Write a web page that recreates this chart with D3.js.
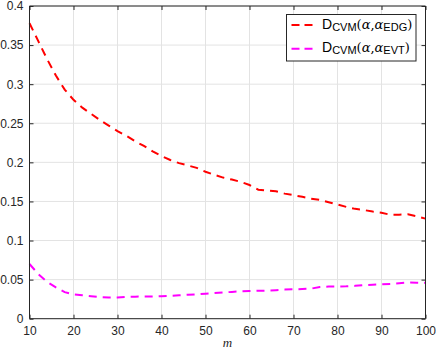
<!DOCTYPE html>
<html><head><meta charset="utf-8">
<script src="https://cdn.jsdelivr.net/npm/d3@7"></script>
<style>
html,body{margin:0;padding:0;background:#fff;}
svg{display:block;font-family:"Liberation Sans",Arial,Helvetica,sans-serif;}
</style></head>
<body><svg id="c" width="436" height="352"></svg>
<script>
const mValues = [10,12,14,16,18,20,22,24,26,28,30,32,34,36,38,40,42,44,46,48,50,52,54,56,58,60,62,64,66,68,70,72,74,76,78,80,82,84,86,88,90,92,94,96,98,100];
const edgValues = [0.378,0.355,0.332,0.311,0.293,0.280,0.270,0.262,0.254,0.247,0.240,0.234,0.227,0.221,0.214,0.208,0.203,0.199,0.196,0.193,0.188,0.184,0.1805,0.178,0.175,0.171,0.165,0.164,0.163,0.160,0.158,0.156,0.1535,0.152,0.149,0.146,0.143,0.1405,0.139,0.137,0.1355,0.133,0.133,0.1335,0.131,0.128];
const evtValues = [0.070,0.057,0.047,0.040,0.034,0.031,0.030,0.0288,0.0275,0.027,0.0272,0.028,0.0282,0.0283,0.0284,0.0288,0.0292,0.030,0.0306,0.031,0.032,0.0328,0.0335,0.0343,0.035,0.0354,0.0357,0.036,0.0365,0.0372,0.0376,0.038,0.0385,0.0405,0.0412,0.0413,0.0414,0.042,0.0428,0.0435,0.044,0.0445,0.0455,0.0462,0.046,0.0458];
const xTicks = [10,20,30,40,50,60,70,80,90,100];
const yTicks = [0,0.05,0.1,0.15,0.2,0.25,0.3,0.35,0.4];
const yTickLabels = ["0","0.05","0.1","0.15","0.2","0.25","0.3","0.35","0.4"];
const seriesNames = ["EDG","EVT"];
const seriesColors = ["#ff0000","#ff00ff"];

const L=29.5, R=425.5, T=6, B=318.7;
const svg=d3.select("#c");
const x=d3.scaleLinear().domain([10,100]).range([L,R]);
const y=d3.scaleLinear().domain([0,0.4]).range([B,T]);
const axisCol="#262626";

// grid
const g=svg.append("g");
g.selectAll(".gx").data(xTicks).enter().append("line")
 .attr("x1",d=>x(d)).attr("x2",d=>x(d)).attr("y1",T).attr("y2",B)
 .attr("stroke","#e3e3e3").attr("stroke-width",1);
g.selectAll(".gy").data(yTicks).enter().append("line")
 .attr("x1",L).attr("x2",R).attr("y1",d=>y(d)).attr("y2",d=>y(d))
 .attr("stroke","#e3e3e3").attr("stroke-width",1);

// lines
const line=d3.line().x((d,i)=>x(mValues[i])).y(d=>y(d));
[edgValues,evtValues].forEach((vals,k)=>{
  svg.append("path").datum(vals).attr("d",line).attr("fill","none")
   .attr("stroke",seriesColors[k]).attr("stroke-width",2).attr("stroke-dasharray","8,6");
});

// axes
const ax=svg.append("g").attr("transform",`translate(0,${B})`)
 .call(d3.axisBottom(x).tickValues(xTicks).tickSize(-4).tickPadding(8).tickFormat(d3.format("d")));
const ay=svg.append("g").attr("transform",`translate(${L},0)`)
 .call(d3.axisLeft(y).tickValues(yTicks).tickSize(-4).tickPadding(6).tickFormat((d,i)=>yTickLabels[i]));
const ar=svg.append("g").attr("transform",`translate(${R},0)`)
 .call(d3.axisRight(y).tickValues(yTicks).tickSize(-4).tickFormat(""));
const at=svg.append("g").attr("transform",`translate(0,${T})`)
 .call(d3.axisTop(x).tickValues(xTicks).tickSize(-4).tickFormat(""));
[ax,ay,ar,at].forEach(a=>{
  a.select(".domain").attr("stroke",axisCol).attr("stroke-width",1);
  a.selectAll(".tick line").attr("stroke",axisCol);
  a.selectAll("text").attr("fill",axisCol).attr("font-size",12)
   .attr("font-family","'Liberation Sans',Arial,Helvetica,sans-serif");
});
ay.selectAll(".domain").attr("d",`M0,${T}V${B}`);
ar.selectAll(".domain").attr("d",`M0,${T}V${B}`);
ax.selectAll(".domain").attr("d",`M${L},0H${R}`);
at.selectAll(".domain").attr("d",`M${L},0H${R}`);

// x label
svg.append("text").attr("x",(L+R)/2).attr("y",347).attr("text-anchor","middle")
 .attr("font-family","'Liberation Serif','Times New Roman',serif").attr("font-style","italic")
 .attr("font-size",13).attr("fill",axisCol).text("m");

// legend
const lg=svg.append("g");
lg.append("rect").attr("x",286.5).attr("y",14.5).attr("width",129.5).attr("height",46.5)
 .attr("fill","#fff").attr("stroke",axisCol).attr("stroke-width",1);
const serif="'DejaVu Serif',serif";
seriesNames.forEach((nm,k)=>{
  const yy=25+k*23.8;
  lg.append("line").attr("x1",291.5).attr("x2",313).attr("y1",yy).attr("y2",yy)
   .attr("stroke",seriesColors[k]).attr("stroke-width",2).attr("stroke-dasharray","8,5");
  const t=lg.append("text").attr("x",322).attr("y",yy+4.3-k*0.8).attr("font-size",14).attr("fill","#000");
  t.append("tspan").text("D");
  t.append("tspan").attr("font-size",11).attr("dy",2).text("CVM");
  t.append("tspan").attr("dy",-2).attr("font-size",13).attr("font-family",serif).text("(");
  t.append("tspan").attr("font-size",13).attr("font-style","italic").attr("font-family",serif).text("α");
  t.append("tspan").attr("font-size",13).attr("font-family",serif).text(",");
  t.append("tspan").attr("font-size",13).attr("font-style","italic").attr("font-family",serif).text("α");
  t.append("tspan").attr("font-size",11).attr("dy",2).text(nm);
  t.append("tspan").attr("dy",-2).attr("font-size",13).attr("font-family",serif).text(")");
});
</script></body></html>
